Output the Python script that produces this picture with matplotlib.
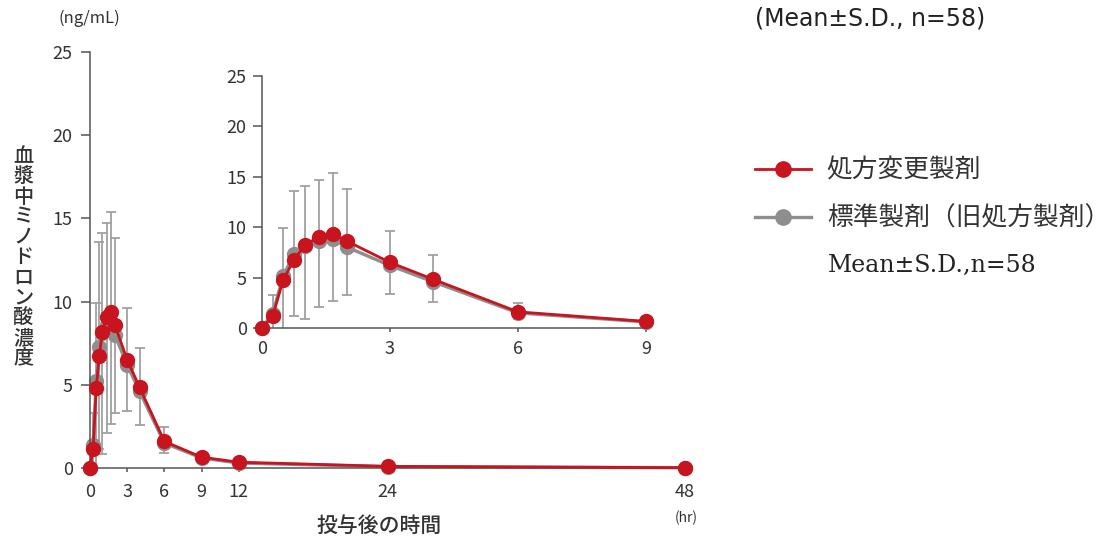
import matplotlib
matplotlib.use("Agg")
import matplotlib.pyplot as plt
import numpy as np

plt.rcParams['font.family'] = ['Noto Sans CJK JP', 'DejaVu Sans']

# time points (hr)
time_hr = [0, 0.25, 0.5, 0.75, 1, 1.33, 1.67, 2, 3, 4, 6, 9, 12, 24, 48]
# mean plasma concentration (ng/mL)
new_mean = [0, 1.15, 4.8, 6.75, 8.2, 9.05, 9.35, 8.6, 6.5, 4.85, 1.6, 0.65, 0.35, 0.1, 0.02]
std_mean = [0, 1.4, 5.2, 7.3, 8.1, 8.6, 8.8, 8.0, 6.2, 4.6, 1.5, 0.6, 0.3, 0.08, 0.02]
# S.D. band ends
err_upper = [0, 3.3, 9.9, 13.6, 14.1, 14.7, 15.4, 13.8, 9.64, 7.2, 2.45, 0.9, 0.45, 0.15, 0.03]
err_lower = [0, -1.0, -0.3, 1.15, 0.85, 2.1, 2.66, 3.3, 3.4, 2.57, 0.92, 0.35, 0.2, 0.05, 0.01]

main_xticks = [0, 3, 6, 9, 12, 24, 48]
inset_xticks = [0, 3, 6, 9]
yticks = [0, 5, 10, 15, 20, 25]

RED = '#c8141e'
GRAY = '#8e8e8e'
ERR = '#a0a0a0'
TXT = '#333333'
SPINE = '#555555'

fig = plt.figure(figsize=(11.10, 5.39), dpi=100)


def draw(ax, xmax, xticks, ypad, xpad):
    # only the points that fall inside this panel
    n = sum(1 for v in time_hr if v <= xmax)
    t = np.array(time_hr[:n])
    m = np.array(new_mean[:n])
    up = np.array(err_upper[:n]) - m
    lo = m - np.array(err_lower[:n])
    ax.errorbar(t, m, yerr=[lo, up], fmt='none', ecolor=ERR, elinewidth=1.3,
                capsize=3.5, capthick=1.3, zorder=1)
    ax.plot(t, std_mean[:n], '-o', color=GRAY, lw=2.4, ms=10, zorder=2,
            clip_on=False, label='標準製剤（旧処方製剤）')
    ax.plot(t, m, '-o', color=RED, lw=2.0, ms=10, zorder=3,
            clip_on=False, label='処方変更製剤')
    ax.set_xlim(0, xmax)
    ax.set_ylim(0, 25)
    ax.set_xticks(xticks)
    ax.set_yticks(yticks)
    for s in ['top', 'right']:
        ax.spines[s].set_visible(False)
    for s in ['left', 'bottom']:
        ax.spines[s].set_color(SPINE)
        ax.spines[s].set_linewidth(1.1)
    ax.tick_params(axis='y', length=6.5, width=1.1, color=SPINE, pad=ypad,
                   labelsize=13, labelcolor=TXT)
    ax.tick_params(axis='x', length=3, width=1.1, color=SPINE, pad=xpad,
                   labelsize=13, labelcolor=TXT)
    ax.patch.set_alpha(0)


ax = fig.add_axes([0.0811, 0.1317, 0.536, 0.7718])
draw(ax, 48, main_xticks, 6, 8)

ins = fig.add_axes([0.236, 0.3915, 0.346, 0.4675])
draw(ins, 9, inset_xticks, 4.5, 6)

# axis texts
fig.text(0.053, 0.965, '(ng/mL)', fontsize=12, color=TXT, ha='left', va='center')
fig.text(0.618, 0.040, '(hr)', fontsize=10, color=TXT, ha='center', va='center')
fig.text(0.3414, 0.025, '投与後の時間', fontsize=15, color=TXT, ha='center', va='center',
         weight='medium')
fig.text(0.021, 0.522, '\n'.join('血漿中ミノドロン酸濃度'), fontsize=14.5, color=TXT,
         ha='center', va='center', linespacing=1.08, weight='medium')

fig.text(0.680, 0.965, '(Mean±S.D., n=58)', fontsize=17, color='#222222',
         family='DejaVu Sans', ha='left', va='center')

h, l = ax.get_legend_handles_labels()
leg = fig.legend(h[::-1], l[::-1], loc='upper left', bbox_to_anchor=(0.680, 0.707),
                 frameon=False, fontsize=18.5, handlelength=2.2, handletextpad=0.6,
                 labelspacing=0.85, labelcolor='#333333', markerscale=1.1,
                 borderpad=0, borderaxespad=0)
fig.text(0.746, 0.508, 'Mean±S.D.,n=58', fontsize=17, color='#222222',
         family='DejaVu Serif', ha='left', va='center')

fig.savefig('out.png', dpi=100)
